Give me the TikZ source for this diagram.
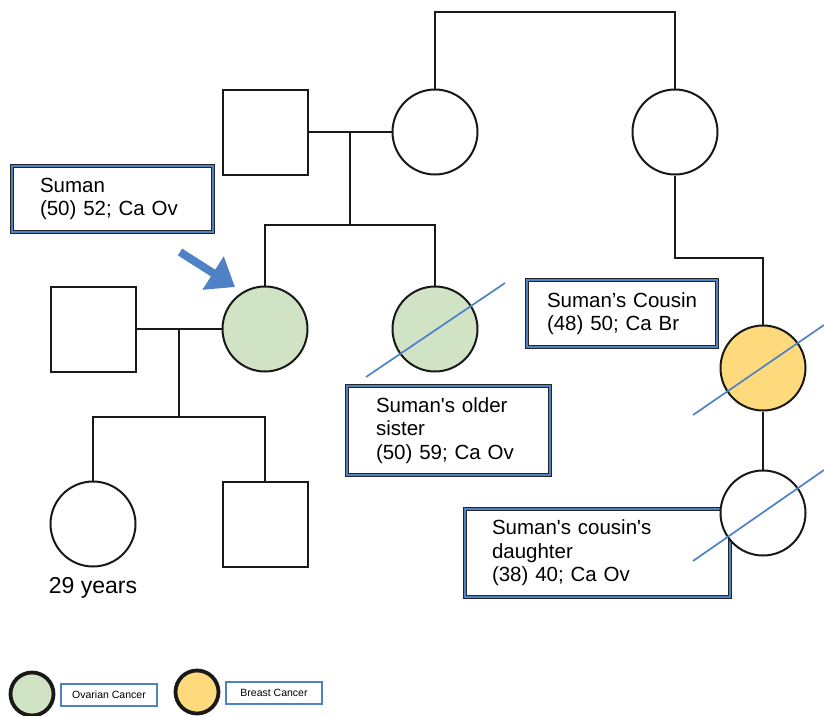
\documentclass[tikz,border=0pt]{standalone}
\usepackage{fontspec}
\setmainfont{Liberation Sans}[Ligatures=TeXOff]
\usetikzlibrary{arrows.meta,calc,positioning}
\definecolor{ovgreen}{HTML}{D0E3C4}
\definecolor{bryellow}{HTML}{FFDA7D}
\definecolor{markblue}{HTML}{4F81C7}
\tikzset{
  person/.style={draw=black!90, line width=2pt, fill=white, minimum size=85pt, inner sep=0pt},
  male/.style={person, rectangle},
  female/.style={person, circle},
  tie/.style={draw=black!90, line width=2pt},
  infobox/.style={draw=black!85, line width=0.7pt, double=markblue, double distance=2.6pt, fill=white, align=left, inner ysep=2pt, font=\fontsize{20.5}{23.5}\selectfont},
  strike/.style={markblue, line width=1.7pt},
  keydot/.style={circle, draw=black!90, line width=3.8pt, minimum size=43pt, inner sep=0pt},
  keybox/.style={draw=markblue, line width=1.2pt, minimum width=96pt, minimum height=22pt, inner sep=0pt, font=\fontsize{10.5}{12}\selectfont}
}
\begin{document}
\begin{tikzpicture}[x=1pt, y=-1pt]
  \useasboundingbox (0,0) rectangle (824,715);
  \node[infobox, text width=145pt, inner xsep=28pt, minimum height=66pt] (sumanbox) at (112.5,199) {Suman\\(50)~52;~Ca~Ov};
  \node[infobox, text width=145pt, inner xsep=29pt, minimum height=89pt] (sisterbox) at (448.5,430.5) {Suman's~older\\sister\\(50)~59;~Ca~Ov};
  \node[infobox, text width=150pt, inner xsep=20pt, minimum height=67pt] (cousinbox) at (622,313.5) {Suman’s~Cousin\\(48)~50;~Ca~Br};
  \node[infobox, text width=211pt, inner xsep=27pt, minimum height=88pt] (daughterbox) at (597.5,553) {Suman's~cousin's\\daughter\\(38)~40;~Ca~Ov};

  \node[male] (grandpa) at (265,132) {};
  \node[female] (grandma) at (435,132) {};
  \node[female] (greataunt) at (675,132) {};
  \node[male] (husband) at (93,329) {};
  \node[female, fill=ovgreen] (suman) at (265,329) {};
  \node[female, fill=ovgreen] (sister) at (435,329) {};
  \node[female, fill=bryellow] (cousin) at (763,368) {};
  \node[female] (cousindau) at (763,513) {};
  \node[female] (daughter) at (93,524) {};
  \node[male] (son) at (265,524) {};
  \node[below=6pt of daughter, font=\fontsize{23}{25}\selectfont] (age) {29 years};

  \coordinate (topbar) at (554,12);
  \coordinate (sibbar) at (350,225);
  \coordinate (cousbar) at (720,258);
  \coordinate (kidbar) at (179,417);
  \draw[tie] (grandma.north) |- (topbar) -| (greataunt.north);
  \draw[tie] (grandpa.east) -- (grandma.west);
  \draw[tie] ($(grandpa.east)!0.5!(grandma.west)$) -- (sibbar);
  \draw[tie] (suman.north) |- (sibbar) -| (sister.north);
  \draw[tie] (greataunt.south) |- (cousbar) -| (cousin.north);
  \draw[tie] (cousin.south) -- (cousindau.north);
  \draw[tie] (husband.east) -- (suman.west);
  \draw[tie] ($(husband.east)!0.5!(suman.west)$) -- (kidbar);
  \draw[tie] (daughter.north) |- (kidbar) -| (son.north);

  \foreach \p/\ax/\ay/\bx/\by in {sister/-69/48/70/-46, cousin/-70/47/61/-43, cousindau/-70/48/61/-43} {
    \draw[strike] ($(\p)+(\ax,\ay)$) -- ($(\p)+(\bx,\by)$);
  }

  \coordinate (pointtail) at (180,252);
  \coordinate (pointhead) at (235,287);
  \draw[markblue, line width=8pt, -{Triangle[length=26pt, width=38pt]}] (pointtail) -- (pointhead);

  \node[keydot, fill=ovgreen] (ovkey) at (32,694) {};
  \node[keybox] (ovlabel) at (109,695) {Ovarian Cancer};
  \node[keydot, fill=bryellow] (brkey) at (197,692) {};
  \node[keybox] (brlabel) at (274,693) {Breast Cancer};
\end{tikzpicture}
\end{document}
